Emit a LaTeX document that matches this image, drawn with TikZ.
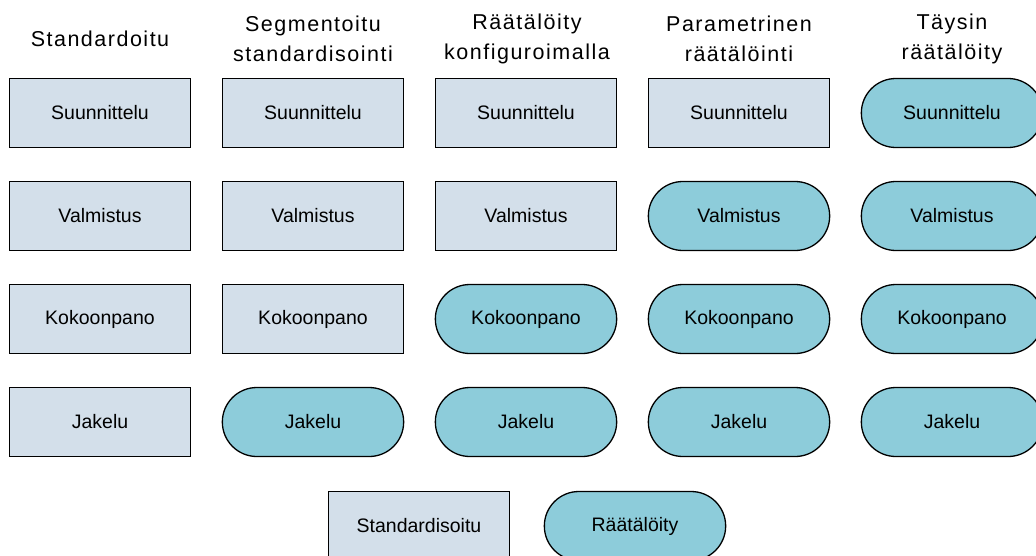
\documentclass[tikz,border=0pt]{standalone}
\usepackage{fontspec}
\setmainfont{Liberation Sans}
\usepackage{tikz}
\usetikzlibrary{shapes.misc}
\definecolor{stdfill}{HTML}{D3DFEA}
\definecolor{custfill}{HTML}{8DCCDA}
\tikzset{
  std/.style={draw, line width=1.3pt, fill=stdfill, minimum width=181pt, minimum height=69pt, font=\fontsize{19.5}{22}\selectfont},
  cust/.style={draw, line width=1.3pt, fill=custfill, rounded rectangle, minimum width=188pt, minimum height=69pt, font=\fontsize{19.5}{22}\selectfont},
  head/.style={align=center, font=\fontsize{21.5}{30}\selectfont\addfontfeature{LetterSpace=7}}
}
\begin{document}
\begin{tikzpicture}[x=1pt, y=-1pt]
\useasboundingbox (0,0) rectangle (1036,555);
\node[head] (h1) at (100, 39) {Standardoitu};
\node[head] (h2) at (313, 39) {Segmentoitu\\standardisointi};
\node[head] (h3) at (527, 39) {Räätälöity\\konfiguroimalla};
\node[head] (h4) at (739, 39) {Parametrinen\\räätälöinti};
\node[head] (h5) at (952, 39) {Täysin\\räätälöity};
\foreach \c in {1,...,5}
\foreach \r/\txt in {1/Suunnittelu,2/Valmistus,3/Kokoonpano,4/Jakelu} {
  \pgfmathtruncatemacro\kind{(\r+\c>5)}
  \ifnum\kind=1
    \node[cust] (n\c\r) at ({100+213*(\c-1)}, {113+103*(\r-1)}) {\txt};
  \else
    \node[std] (n\c\r) at ({100+213*(\c-1)}, {113+103*(\r-1)}) {\txt};
  \fi
}
\node[std] (legstd) at (419, 526) {Standardisoitu};
\node[cust] (legcust) at (635, 526) {Räätälöity};
\end{tikzpicture}
\end{document}
